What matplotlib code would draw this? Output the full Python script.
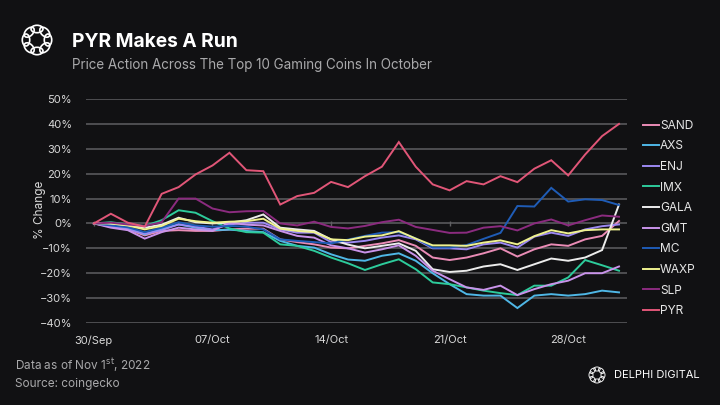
import numpy as np
import pandas as pd
import matplotlib
import matplotlib.pyplot as plt
import matplotlib.dates as mdates
import matplotlib.ticker as mtick
from matplotlib.patches import Ellipse

matplotlib.use('Agg')

BG = '#111113'
GRID = '#5f5f62'
TEXT = '#d8d8d8'
plt.rcParams['font.family'] = ['Inter', 'DejaVu Sans']

dates = pd.date_range('2022-09-30', periods=32, freq='D')
tick_dates = pd.to_datetime(['2022-09-30', '2022-10-07', '2022-10-14', '2022-10-21', '2022-10-28'])

# % change since 30/Sep
sand = [0, -1.3, -2.4, -4.8, -3.0, -2.7, -3.0, -3.0, -2.4, -2.1, -2.1, -6.4, -7.5, -8.4, -9.7, -10.0,
        -9.0, -8.0, -6.7, -9.0, -13.7, -14.7, -13.7, -12.0, -10.0, -13.3, -10.4, -8.4, -9.0, -6.4, -5.0, 1.0]
axs = [0, -0.8, -1.7, -4.4, -2.1, -0.4, -1.7, -2.7, -2.5, -3.0, -3.5, -7.0, -9.0, -9.7, -12.4, -14.5,
       -15.0, -13.0, -12.0, -15.0, -20.0, -24.4, -28.4, -29.0, -29.0, -34.0, -29.0, -28.4, -29.0, -28.4, -27.0, -27.7]
enj = [0, -1.0, -2.4, -4.1, -2.7, -0.4, -1.3, -2.4, -0.4, 0.3, 0.3, -2.4, -3.7, -3.7, -7.5, -7.7,
       -7.0, -5.7, -4.8, -6.4, -10.0, -10.0, -10.4, -8.4, -7.7, -9.7, -5.3, -3.7, -5.0, -2.4, -1.1, -0.4]
imx = [0, 0.5, -0.4, -1.0, 1.3, 5.3, 4.3, 0.9, -2.0, -3.5, -3.7, -8.4, -9.0, -11.0, -13.7, -16.0,
       -18.7, -16.4, -14.4, -18.4, -23.7, -24.4, -25.7, -27.0, -28.0, -28.8, -25.0, -25.0, -21.7, -14.7, -16.8, -19.0]
gala = [0, -0.3, -0.8, -1.7, -0.5, 2.3, 0.5, 0.0, 0.3, 1.3, 3.6, -1.7, -2.4, -3.0, -6.4, -8.5,
        -10.0, -9.0, -8.0, -11.0, -18.4, -19.5, -19.0, -17.3, -16.4, -18.7, -16.4, -14.1, -15.0, -13.7, -10.7, 7.6]
gmt = [0, -1.7, -2.7, -6.1, -3.5, -1.7, -2.4, -3.0, 0.3, -0.5, -0.8, -3.0, -5.0, -5.7, -8.8, -10.0,
       -11.7, -10.4, -8.8, -13.0, -19.0, -22.4, -25.7, -26.7, -25.0, -28.8, -26.4, -24.4, -23.0, -20.0, -20.0, -17.3]
mc = [0, -0.8, -1.5, -3.5, -1.7, 0.5, -0.8, -1.3, -1.0, -1.3, -2.4, -6.4, -7.0, -7.5, -8.0, -6.5,
      -5.0, -3.7, -3.5, -6.0, -9.7, -9.7, -8.7, -6.2, -3.8, 7.0, 6.8, 14.3, 8.8, 9.7, 9.4, 7.4]
waxp = [0, 0.0, -0.8, -2.4, -1.0, 1.9, 0.9, 0.3, 0.7, 0.9, 1.9, -2.1, -3.0, -3.5, -6.4, -6.7,
        -5.3, -4.8, -3.1, -6.1, -8.8, -8.8, -9.0, -7.7, -6.8, -8.4, -5.1, -2.7, -4.0, -2.7, -2.4, -2.4]
slp = [0, 0.3, -0.4, -1.0, 0.5, 10.0, 10.0, 6.0, 4.5, 4.9, 5.0, 0.0, -0.8, 0.7, -1.4, -2.0,
       -1.0, 0.5, 1.5, -1.4, -2.6, -3.8, -3.7, -1.7, -1.1, -2.8, 0.0, 1.6, -0.8, 1.3, 3.2, 2.7]
pyr = [0, 3.9, 0.3, -1.3, 11.9, 14.6, 19.7, 23.3, 28.4, 21.4, 21.0, 7.6, 11.0, 12.3, 16.7, 14.6,
       19.0, 22.8, 32.7, 22.8, 15.7, 13.3, 17.0, 15.7, 19.0, 16.6, 22.0, 25.4, 19.3, 27.7, 35.1, 40.0]

coins = ['SAND', 'AXS', 'ENJ', 'IMX', 'GALA', 'GMT', 'MC', 'WAXP', 'SLP', 'PYR']
series = [sand, axs, enj, imx, gala, gmt, mc, waxp, slp, pyr]
colors = ['#ea8cb6', '#4fb7e6', '#9c89f2', '#2dcb9b', '#ececec',
          '#c993ea', '#1f5cb6', '#eff28f', '#8b2b7f', '#e15678']


def draw_logo(fig, cx, cy, r, size):
    # ring of interlocking loops, roughly like the Delphi mark
    for k in range(8):
        ang = np.pi / 4 * k
        e = Ellipse((cx + r * np.cos(ang), cy + r * np.sin(ang)), size, size * 0.62,
                    angle=np.degrees(ang) + 90, transform=None, fill=False,
                    ec='white', lw=1.4 * size / 14)
        fig.patches.append(e)


fig = plt.figure(figsize=(7.2, 4.05), dpi=100, facecolor=BG)
ax = fig.add_axes([0.1194, 0.2025, 0.7514, 0.553], facecolor=BG)

for name, vals, col in zip(coins, series, colors):
    ax.plot(dates, vals, color=col, lw=1.4, label=name, solid_joinstyle='miter')

x0 = mdates.date2num(dates[0]) - 0.47
x1 = mdates.date2num(dates[-1]) + 0.47
ax.set_xlim(x0, x1)
ax.set_ylim(-40, 50)
ax.set_yticks(np.arange(-40, 51, 10))
ax.yaxis.set_major_formatter(mtick.StrMethodFormatter('{x:.0f}%'))
ax.set_xticks(tick_dates)
ax.xaxis.set_major_formatter(mdates.DateFormatter('%d/%b'))
ax.yaxis.grid(True, color=GRID, lw=1.1)
ax.set_axisbelow(True)
ax.tick_params(axis='both', length=0, colors=TEXT, labelsize=8)
ax.tick_params(axis='y', pad=10)
ax.tick_params(axis='x', pad=9)
for s in ax.spines.values():
    s.set_visible(False)
# little tick marks sitting on the zero line
ax.vlines(tick_dates, -0.9, 0.9, color=GRID, lw=1.0, zorder=1)

leg = ax.legend(loc='upper left', bbox_to_anchor=(1.01, 0.955), frameon=False,
                handlelength=1.3, handletextpad=0.1, labelspacing=0.72,
                fontsize=8.6, labelcolor='#e6e6e6')

fig.text(40 / 720, 1 - 210 / 405, '% Change', rotation=90,
         ha='center', va='center', color=TEXT, fontsize=8.5)

fig.text(72 / 720, 1 - 47 / 405, 'PYR Makes A Run', color='white', fontsize=13.8,
         fontweight='bold', ha='left', va='baseline')
fig.text(72 / 720, 1 - 69 / 405, 'Price Action Across The Top 10 Gaming Coins In October',
         color='#a9a9ab', fontsize=9.7, ha='left', va='baseline')
draw_logo(fig, 37, 405 - 40, 11, 12)

fig.text(15 / 720, 1 - 370 / 405, 'Data as of Nov 1$^{\\mathrm{st}}$, 2022', color='#a9a9ab',
         fontsize=8.5, ha='left', va='baseline')
fig.text(15 / 720, 1 - 387 / 405, 'Source: coingecko', color='#a9a9ab',
         fontsize=8.5, ha='left', va='baseline')
draw_logo(fig, 597, 405 - 375, 6, 6.5)
fig.text(614 / 720, 1 - 375 / 405, 'DELPHI DIGITAL', color='white', fontsize=8,
         ha='left', va='center')

fig.savefig('out.png', dpi=100, facecolor=BG)
plt.close(fig)
